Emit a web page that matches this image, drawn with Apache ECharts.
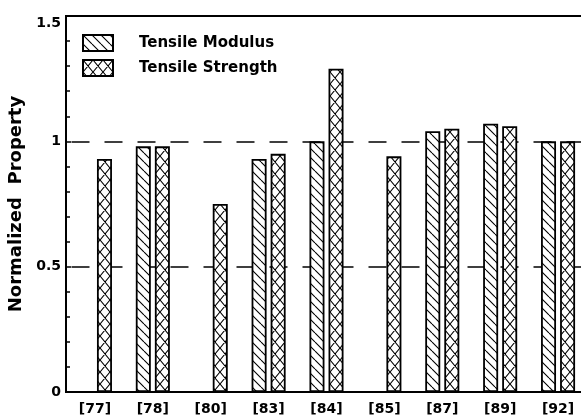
<!DOCTYPE html>
<html><head><meta charset="utf-8">
<script src="https://cdn.jsdelivr.net/npm/echarts@6/dist/echarts.min.js"></script>
<style>html,body{margin:0;padding:0;background:#fff}#c{width:581px;height:419px}</style>
</head><body><div id="c"></div>
<script>
const categories = ['[77]','[78]','[80]','[83]','[84]','[85]','[87]','[89]','[92]'];
const modulus = [null, 0.98, null, 0.93, 1.00, null, 1.04, 1.07, 1.00];
const strength = [0.93, 0.98, 0.75, 0.95, 1.29, 0.94, 1.05, 1.06, 1.00];
const seriesNames = ['Tensile Modulus', 'Tensile Strength'];

function makePattern(kind) {
  const w = kind === 'hatch' ? 9 : 10, h = kind === 'hatch' ? 9 : 12;
  const c = document.createElement('canvas');
  c.width = w; c.height = h;
  const g = c.getContext('2d');
  g.fillStyle = '#fff'; g.fillRect(0, 0, w, h);
  g.strokeStyle = '#000'; g.lineWidth = 1.1;
  g.beginPath();
  if (kind === 'hatch') {
    for (let k = -1; k <= 1; k++) { g.moveTo(k * w, 0); g.lineTo(k * w + w, h); }
  } else {
    for (let k = -1; k <= 1; k++) {
      g.moveTo(k * w, 0); g.lineTo(k * w + w, h);
      g.moveTo(k * w + w, 0); g.lineTo(k * w, h);
    }
  }
  g.stroke();
  return { image: c, repeat: 'repeat' };
}

const font = 'DejaVu Sans';
const chart = echarts.init(document.getElementById('c'), null, { renderer: 'canvas' });
chart.setOption({
  animation: false,
  backgroundColor: '#fff',
  grid: { left: 66, top: 16, bottom: 27, width: 521, outerBoundsMode: 'none', containLabel: false,
          show: true, borderColor: '#000', borderWidth: 2, backgroundColor: 'transparent' },
  legend: {
    orient: 'vertical', left: 82, top: 34, padding: 0, icon: 'rect',
    itemWidth: 30, itemHeight: 16, itemGap: 7,
    textStyle: { fontFamily: font, fontWeight: 'bold', fontSize: 15, color: '#000', padding: [0, 0, 0, 21] },
    data: seriesNames
  },
  xAxis: {
    type: 'category', data: categories,
    axisLine: { lineStyle: { color: '#000', width: 2 } },
    axisTick: { show: false },
    axisLabel: { fontFamily: font, fontWeight: 'bold', fontSize: 14, color: '#000', margin: 10 }
  },
  yAxis: {
    type: 'value', min: 0, max: 1.5, interval: 0.5,
    name: 'Normalized  Property', nameLocation: 'middle', nameGap: 37,
    nameTextStyle: { fontFamily: font, fontWeight: 'bold', fontSize: 18, color: '#000' },
    axisLine: { show: true, lineStyle: { color: '#000', width: 2 } },
    axisTick: { show: true, inside: true, length: 5, lineStyle: { color: '#000', width: 1.5 } },
    minorTick: { show: true, splitNumber: 5, length: 4, lineStyle: { color: '#000', width: 1.5 } },
    axisLabel: {
      fontFamily: font, fontWeight: 'bold', fontSize: 14, color: '#000', margin: 5,
      formatter: v => v === 1.5 ? '{t|1.5}' : String(v),
      rich: { t: { fontFamily: font, fontWeight: 'bold', fontSize: 14, color: '#000', padding: [15, 0, 0, 0] } }
    },
    splitLine: { show: true, lineStyle: { color: '#000', width: 1.5, type: [18, 15], dashOffset: 27.5 } }
  },
  series: [
    {
      name: seriesNames[0], type: 'bar', data: modulus, barWidth: 15, barGap: '27%',
      itemStyle: { color: makePattern('hatch'), borderColor: '#000', borderWidth: 1.8 }
    },
    {
      name: seriesNames[1], type: 'bar', data: strength, barWidth: 15,
      itemStyle: { color: makePattern('cross'), borderColor: '#000', borderWidth: 1.8 }
    }
  ]
});
</script></body></html>
